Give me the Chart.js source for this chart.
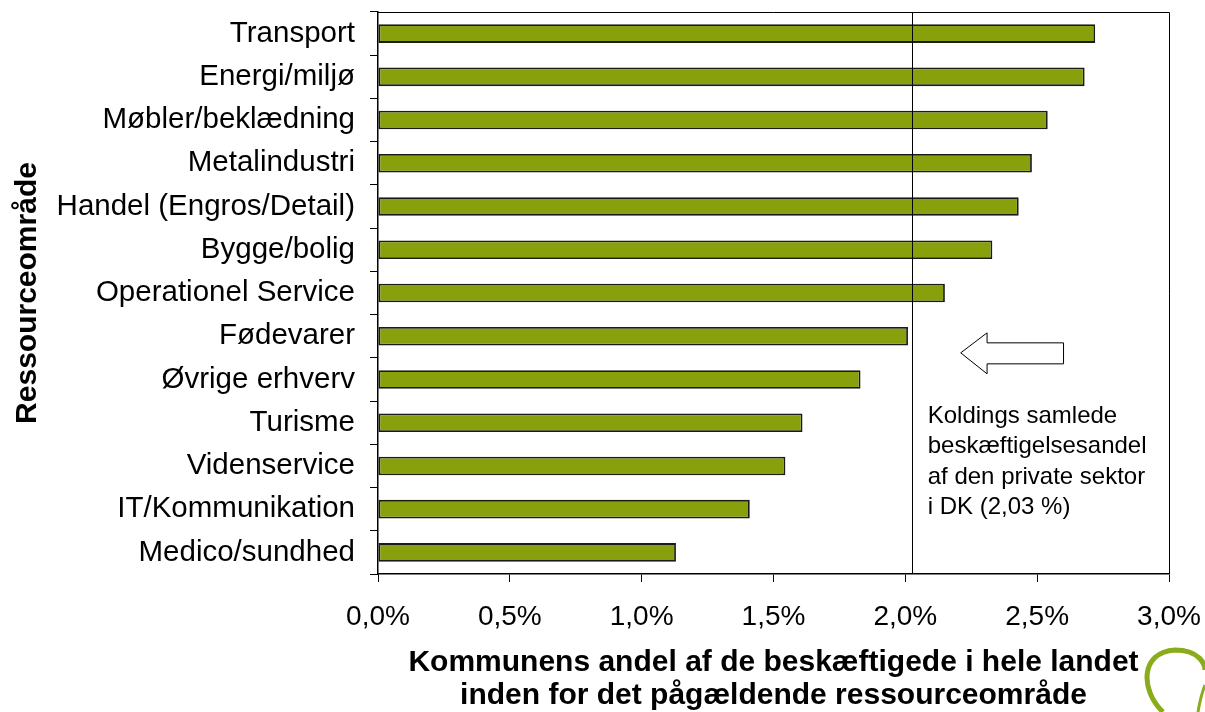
<!DOCTYPE html>
<html>
<head>
<meta charset="utf-8">
<script src="https://cdn.jsdelivr.net/npm/chart.js@4"></script>
<style>
  html, body { margin: 0; padding: 0; background: #fff; }
  #wrap { width: 1205px; height: 712px; }
</style>
</head>
<body>
<div id="wrap"><canvas id="myChart" width="1205" height="712"></canvas></div>
<script>
const categories = [
  "Transport", "Energi/miljø", "Møbler/beklædning", "Metalindustri",
  "Handel (Engros/Detail)", "Bygge/bolig", "Operationel Service", "Fødevarer",
  "Øvrige erhverv", "Turisme", "Videnservice", "IT/Kommunikation", "Medico/sundhed"
];
const shares = [2.72, 2.68, 2.54, 2.48, 2.43, 2.33, 2.15, 2.01, 1.83, 1.61, 1.545, 1.41, 1.13];
const totalShare = 2.03;
const noteLines = ["Koldings samlede", "beskæftigelsesandel", "af den private sektor", "i DK (2,03 %)"];
const xTitle = ["Kommunens andel af de beskæftigede i hele landet", "inden for det pågældende ressourceområde"];
const yTitle = "Ressourceområde";

const FONT = "'Liberation Sans', Arial, sans-serif";

const extras = {
  id: "extras",
  afterDatasetsDraw(chart) {
    const { ctx, chartArea: a, scales: { x, y } } = chart;
    ctx.save();
    // frame top/right
    ctx.strokeStyle = "#000";
    ctx.lineWidth = 1;
    ctx.beginPath();
    ctx.moveTo(a.left, a.top + 0.5);
    ctx.lineTo(a.right + 0.5, a.top + 0.5);
    ctx.lineTo(a.right + 0.5, a.bottom);
    ctx.stroke();
    // reference line
    const lx = Math.round(x.getPixelForValue(totalShare)) - 0.5;
    ctx.beginPath();
    ctx.moveTo(lx, a.top);
    ctx.lineTo(lx, a.bottom);
    ctx.stroke();
    // arrow
    const tip = x.getPixelForValue(2.21);
    const base = x.getPixelForValue(2.31);
    const tail = x.getPixelForValue(2.60);
    const cy = (y.getPixelForValue(7) + y.getPixelForValue(8)) / 2 - 5;
    ctx.beginPath();
    ctx.moveTo(tip, cy);
    ctx.lineTo(base, cy - 20);
    ctx.lineTo(base, cy - 10);
    ctx.lineTo(tail, cy - 10);
    ctx.lineTo(tail, cy + 11);
    ctx.lineTo(base, cy + 11);
    ctx.lineTo(base, cy + 21);
    ctx.closePath();
    ctx.fillStyle = "#fff";
    ctx.fill();
    ctx.stroke();
    // note text
    ctx.fillStyle = "#000";
    ctx.font = "24px " + FONT;
    ctx.textBaseline = "middle";
    const tx = x.getPixelForValue(2.085);
    noteLines.forEach((t, i) => ctx.fillText(t, tx, 416 + i * 30.5));
    // logo fragment
    ctx.strokeStyle = "#8aab1a";
    ctx.lineWidth = 5;
    ctx.beginPath();
    ctx.moveTo(1163, 712);
    ctx.bezierCurveTo(1140, 690, 1140, 652, 1175, 650);
    ctx.bezierCurveTo(1200, 650, 1205, 665, 1205, 670);
    ctx.stroke();
    ctx.lineWidth = 3;
    ctx.beginPath();
    ctx.moveTo(1198, 712);
    ctx.bezierCurveTo(1200, 700, 1203, 690, 1205, 685);
    ctx.stroke();
    ctx.restore();
  }
};

new Chart(document.getElementById("myChart").getContext("2d"), {
  type: "bar",
  data: {
    labels: categories,
    datasets: [{
      data: shares,
      backgroundColor: "#87a00c",
      borderColor: "#1a1a1a",
      borderWidth: 1.8,
      borderSkipped: false,
      barPercentage: 0.43,
      categoryPercentage: 1.0
    }]
  },
  options: {
    indexAxis: "y",
    responsive: false,
    animation: false,
    layout: { padding: { top: 12, right: 36, left: 10, bottom: 0 } },
    plugins: { legend: { display: false }, tooltip: { enabled: false } },
    scales: {
      x: {
        min: 0, max: 3,
        ticks: {
          stepSize: 0.5,
          color: "#000",
          font: { family: FONT, size: 28 },
          padding: 18,
          callback: v => v.toFixed(1).replace(".", ",") + "%"
        },
        grid: { drawOnChartArea: false, tickLength: 8, color: "#000", offset: false },
        border: { color: "#000", width: 1.5 },
        title: {
          display: true,
          text: xTitle,
          color: "#000",
          font: { family: FONT, size: 30, weight: "bold", lineHeight: 1.1 },
          padding: { top: 0, bottom: 0 }
        },
        afterFit: s => { s.height = 138; s.paddingLeft = 0; s.paddingRight = 0; }
      },
      y: {
        ticks: {
          color: "#000",
          font: { family: FONT, size: 29.5 },
          padding: 15
        },
        grid: { drawOnChartArea: false, tickLength: 8, color: "#000", offset: true },
        border: { color: "#000", width: 1.5 },
        title: {
          display: true,
          text: yTitle,
          color: "#000",
          font: { family: FONT, size: 30, weight: "bold" },
          padding: 0
        },
        afterFit: s => { s.width = 368; s.paddingTop = 0; s.paddingBottom = 0; }
      }
    }
  },
  plugins: [extras]
});
</script>
</body>
</html>
